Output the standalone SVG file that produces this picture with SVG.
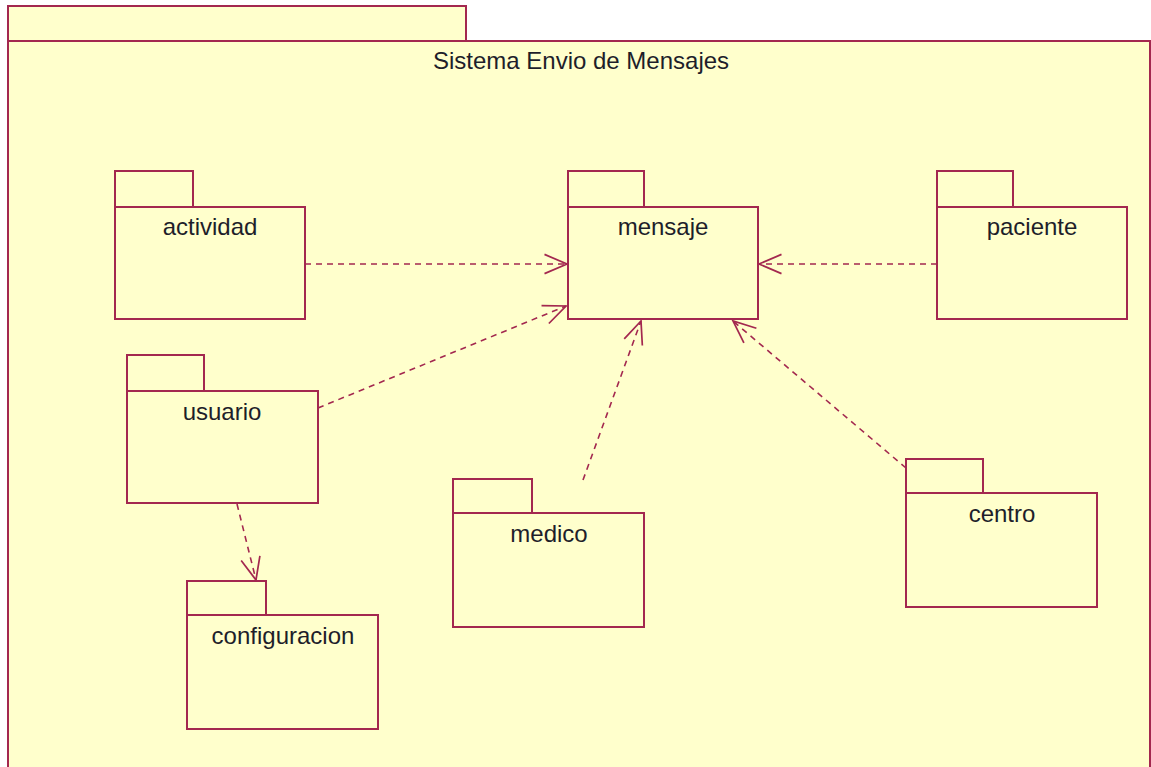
<svg xmlns="http://www.w3.org/2000/svg" width="1151" height="767" viewBox="0 0 1151 767">
  <style>
    .pkg { fill: #FFFFCC; stroke: #A3284F; stroke-width: 2; }
    .lbl { font-family: "Liberation Sans", Arial, sans-serif; font-size: 24px; fill: #1e1e2a; text-anchor: middle; }
    .dep { fill: none; stroke: #A3284F; stroke-width: 1.6; stroke-dasharray: 6 5; }
  </style>
  <defs>
    <marker id="open" markerUnits="userSpaceOnUse" markerWidth="30" markerHeight="30" viewBox="-24 -12 28 24" refX="0" refY="0" orient="auto">
      <path d="M-21,-9 L0,0 L-21,9" fill="none" stroke="#A3284F" stroke-width="1.6"/>
    </marker>
  </defs>

  <rect width="1151" height="767" fill="#FFFFFF"/>

  <!-- enclosing package -->
  <g id="sistema">
    <rect class="pkg" x="8" y="6" width="458" height="35"/>
    <rect class="pkg" x="8" y="41" width="1142" height="760"/>
    <text class="lbl" x="581" y="69" font-size="27">Sistema Envio de Mensajes</text>
  </g>

  <g id="actividad">
    <rect class="pkg" x="115" y="171" width="78" height="36"/>
    <rect class="pkg" x="115" y="207" width="190" height="112"/>
    <text class="lbl" x="210" y="235">actividad</text>
  </g>

  <g id="mensaje">
    <rect class="pkg" x="568" y="171" width="76" height="36"/>
    <rect class="pkg" x="568" y="207" width="190" height="112"/>
    <text class="lbl" x="663" y="235">mensaje</text>
  </g>

  <g id="paciente">
    <rect class="pkg" x="937" y="171" width="76" height="36"/>
    <rect class="pkg" x="937" y="207" width="190" height="112"/>
    <text class="lbl" x="1032" y="235">paciente</text>
  </g>

  <g id="usuario">
    <rect class="pkg" x="127" y="355" width="77" height="36"/>
    <rect class="pkg" x="127" y="391" width="191" height="112"/>
    <text class="lbl" x="222" y="420">usuario</text>
  </g>

  <g id="configuracion">
    <rect class="pkg" x="187" y="581" width="79" height="34"/>
    <rect class="pkg" x="187" y="615" width="191" height="114"/>
    <text class="lbl" x="283" y="644">configuracion</text>
  </g>

  <g id="medico">
    <rect class="pkg" x="453" y="479" width="79" height="34"/>
    <rect class="pkg" x="453" y="513" width="191" height="114"/>
    <text class="lbl" x="549" y="542">medico</text>
  </g>

  <g id="centro">
    <rect class="pkg" x="906" y="459" width="77" height="34"/>
    <rect class="pkg" x="906" y="493" width="191" height="114"/>
    <text class="lbl" x="1002" y="522">centro</text>
  </g>

  <!-- dependencies -->
  <g id="connectors">
    <line class="dep" x1="305" y1="264" x2="567" y2="264" marker-end="url(#open)"/>
    <line class="dep" x1="937" y1="264" x2="759" y2="264" marker-end="url(#open)"/>
    <line class="dep" x1="318" y1="408" x2="566" y2="306" marker-end="url(#open)"/>
    <line class="dep" x1="583" y1="480" x2="641" y2="321" marker-end="url(#open)"/>
    <line class="dep" x1="906" y1="468" x2="733" y2="321" marker-end="url(#open)"/>
    <line class="dep" x1="237" y1="504" x2="256" y2="580" marker-end="url(#open)"/>
  </g>
</svg>
